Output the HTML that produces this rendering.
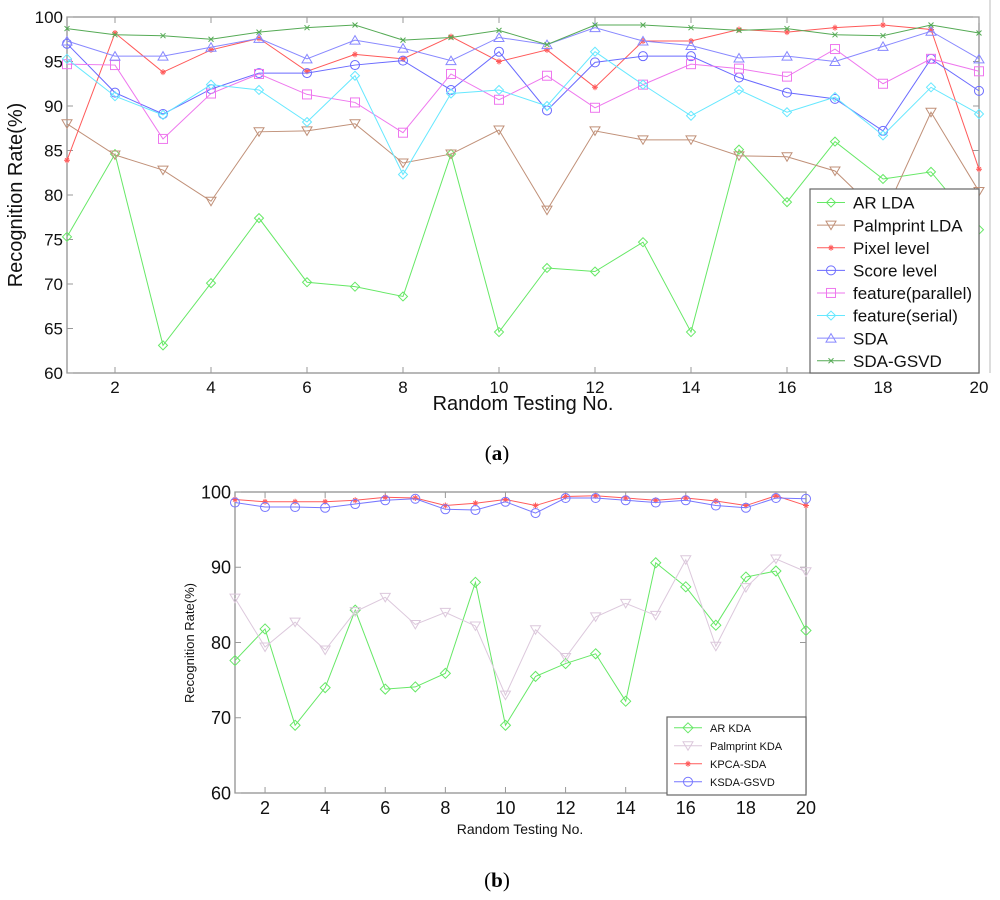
<!DOCTYPE html>
<html><head><meta charset="utf-8"><style>
body{margin:0;background:#fff;width:1000px;height:900px;overflow:hidden;font-family:"Liberation Sans",sans-serif}
svg{position:absolute;left:0;top:0}
</style></head><body>
<svg id="fig" width="1000" height="900"></svg>
<script>
const xCats=[1,2,3,4,5,6,7,8,9,10,11,12,13,14,15,16,17,18,19,20];
const xTicks=[2,4,6,8,10,12,14,16,18,20];
const yTicksA=[60,65,70,75,80,85,90,95,100];
const yTicksB=[60,70,80,90,100];
const arLda=[75.3,84.6,63.1,70.1,77.4,70.2,69.7,68.6,84.6,64.6,71.8,71.4,74.7,64.6,85.1,79.2,86.0,81.8,82.6,76.1];
const palmLda=[88,84.5,82.8,79.3,87.1,87.2,88,83.6,84.6,87.3,78.3,87.2,86.2,86.2,84.4,84.3,82.7,77.5,89.3,80.4];
const pixelLevel=[83.9,98.2,93.8,96.3,97.6,93.9,95.8,95.3,97.8,95.0,96.3,92.1,97.3,97.3,98.6,98.3,98.8,99.1,98.6,82.9];
const scoreLevel=[97,91.5,89.1,91.9,93.7,93.7,94.6,95.1,91.8,96.1,89.5,94.9,95.6,95.6,93.2,91.5,90.8,87.2,95.3,91.7];
const featParallel=[94.7,94.6,86.3,91.4,93.6,91.3,90.4,87,93.6,90.7,93.4,89.8,92.4,94.7,94.2,93.3,96.4,92.5,95.3,93.9];
const featSerial=[95.3,91.1,89.0,92.4,91.8,88.2,93.4,82.3,91.4,91.8,90,96.1,92.4,88.9,91.8,89.3,91,86.7,92.1,89.1];
const sda=[97.3,95.6,95.6,96.6,97.6,95.3,97.4,96.5,95.1,97.7,96.9,98.8,97.3,96.8,95.4,95.6,95.0,96.7,98.4,95.3];
const sdaGsvd=[98.7,98,97.9,97.5,98.3,98.8,99.1,97.4,97.7,98.5,96.9,99.1,99.1,98.8,98.5,98.7,98.0,97.9,99.1,98.2];
const arKda=[77.6,81.8,69,74,84.3,73.8,74.1,75.9,88,69,75.5,77.2,78.5,72.2,90.6,87.4,82.3,88.7,89.5,81.6];
const palmKda=[85.9,79.4,82.7,79,84.1,86,82.4,84,82.2,73,81.7,78,83.4,85.2,83.6,91,79.5,87.3,91.1,89.4];
const kpcaSda=[99,98.7,98.7,98.7,98.9,99.3,99.2,98.2,98.5,99,98.2,99.4,99.5,99.2,98.9,99.2,98.8,98.2,99.5,98.2];
const ksdaGsvd=[98.6,98,98,97.9,98.4,98.9,99.1,97.7,97.6,98.7,97.2,99.2,99.2,98.9,98.6,98.9,98.2,97.9,99.2,99.1];

const NS="http://www.w3.org/2000/svg";
const svg=document.getElementById('fig');
function mk(tag,attrs,parent){const e=document.createElementNS(NS,tag);for(const k in attrs)e.setAttribute(k,attrs[k]);(parent||svg).appendChild(e);return e;}
function marker(g,type,x,y,c,s){
  let e;
  if(type==='diamond')e=mk('polygon',{points:`${x},${y-s} ${x+s},${y} ${x},${y+s} ${x-s},${y}`,fill:'none',stroke:c},g);
  else if(type==='tri-down')e=mk('polygon',{points:`${x-s},${y-s*0.8} ${x+s},${y-s*0.8} ${x},${y+s*0.9}`,fill:'none',stroke:c},g);
  else if(type==='tri-up')e=mk('polygon',{points:`${x-s},${y+s*0.8} ${x+s},${y+s*0.8} ${x},${y-s*0.9}`,fill:'none',stroke:c},g);
  else if(type==='circle')e=mk('circle',{cx:x,cy:y,r:s,fill:'none',stroke:c},g);
  else if(type==='square')e=mk('rect',{x:x-s,y:y-s,width:2*s,height:2*s,fill:'none',stroke:c},g);
  else if(type==='star'){e=mk('path',{d:`M${x-3},${y}h6M${x},${y-3}v6M${x-2},${y-2}l4,4M${x-2},${y+2}l4,-4`,stroke:c},g);}
  else if(type==='x'){e=mk('path',{d:`M${x-2.5},${y-2.5}l5,5M${x-2.5},${y+2.5}l5,-5`,stroke:c},g);}
  
  
}
function chart(cfg){
  const {L,R,T,B,ymin,ymax,yTicks,series,tickFont,name}=cfg;
  const xs=v=>L+(v-1)/(19)*(R-L);
  const ys=v=>B-(v-ymin)/(ymax-ymin)*(B-T);
  const g=mk('g',{});
  
  
  mk('rect',{x:L,y:T,width:R-L,height:B-T,fill:'#fff',stroke:'#888','stroke-width':1.2},g);
  xTicks.forEach(t=>{
    const X=xs(t);
    mk('line',{x1:X,y1:B,x2:X,y2:B-6,stroke:'#999'},g);
    mk('line',{x1:X,y1:T,x2:X,y2:T+6,stroke:'#999'},g);
    const tx=mk('text',{x:X,y:B+tickFont+3,'font-size':tickFont,'text-anchor':'middle',fill:'#111'},g);
    tx.textContent=t;
    
    
  });
  yTicks.forEach(t=>{
    const Y=ys(t);
    mk('line',{x1:L,y1:Y,x2:L+6,y2:Y,stroke:'#999'},g);
    mk('line',{x1:R,y1:Y,x2:R-6,y2:Y,stroke:'#999'},g);
    const tx=mk('text',{x:L-4,y:Y+tickFont*0.36,'font-size':tickFont,'text-anchor':'end',fill:'#111'},g);
    tx.textContent=t;
    
    
  });
  series.forEach(s=>{
    const sg=mk('g',{},g);
    
    
    const pts=s.data.map((v,i)=>xs(xCats[i])+','+ys(v)).join(' ');
    mk('polyline',{points:pts,fill:'none',stroke:s.c,'stroke-width':1},sg);
    s.data.forEach((v,i)=>marker(sg,s.m,xs(xCats[i]),ys(v),s.c,s.ms));
  });
  return g;
}
function legend(x,y,w,h,series,fs,gap,name){
  const g=mk('g',{});
  
  
  mk('rect',{x:x,y:y,width:w,height:h,fill:'#fff',stroke:'#666','stroke-width':1.2},g);
  series.forEach((s,i)=>{
    const cy=y+gap*0.6+i*gap;
    const eg=mk('g',{},g);
    
    
    mk('line',{x1:x+7,y1:cy,x2:x+35,y2:cy,stroke:s.c},eg);
    marker(eg,s.m,x+21,cy,s.c,s.ms);
    const t=mk('text',{x:x+43,y:cy+fs*0.36,'font-size':fs,fill:'#111'},eg);
    t.textContent=s.label;
  });
}
const sA=[
 {id:'ar-lda',label:'AR LDA',data:arLda,c:'#66e866',m:'diamond',ms:4.5},
 {id:'palmprint-lda',label:'Palmprint LDA',data:palmLda,c:'#c09078',m:'tri-down',ms:5},
 {id:'pixel-level',label:'Pixel level',data:pixelLevel,c:'#ff5a5a',m:'star',ms:3},
 {id:'score-level',label:'Score level',data:scoreLevel,c:'#6a6aff',m:'circle',ms:4.5},
 {id:'feature-parallel',label:'feature(parallel)',data:featParallel,c:'#ee77ee',m:'square',ms:4.5},
 {id:'feature-serial',label:'feature(serial)',data:featSerial,c:'#66e8ff',m:'diamond',ms:4.5},
 {id:'sda',label:'SDA',data:sda,c:'#8888ff',m:'tri-up',ms:5},
 {id:'sda-gsvd',label:'SDA-GSVD',data:sdaGsvd,c:'#55aa55',m:'x',ms:3}];
chart({L:67,R:979,T:17,B:373,ymin:60,ymax:100,yTicks:yTicksA,series:sA,tickFont:17,name:'chart-a'});
legend(810,189,169,184,sA,17,22.6,'legend-a');
mk('line',{x1:990,y1:0,x2:990,y2:373,stroke:'#bbb'});
const sB=[
 {id:'ar-kda',label:'AR KDA',data:arKda,c:'#66e866',m:'diamond',ms:5},
 {id:'palmprint-kda',label:'Palmprint KDA',data:palmKda,c:'#dcc8dc',m:'tri-down',ms:5},
 {id:'kpca-sda',label:'KPCA-SDA',data:kpcaSda,c:'#ff5a5a',m:'star',ms:3},
 {id:'ksda-gsvd',label:'KSDA-GSVD',data:ksdaGsvd,c:'#7777ff',m:'circle',ms:4.5}];
chart({L:235,R:806,T:492,B:793,ymin:60,ymax:100,yTicks:yTicksB,series:sB,tickFont:18,name:'chart-b'});
legend(667,717,139,78,sB,11,18,'legend-b');
function txt(x,y,s,fs,opts){const t=mk('text',Object.assign({x:x,y:y,'font-size':fs,fill:'#111'},opts||{}));t.textContent=s;return t;}
let t;
t=txt(0,0,'Recognition Rate(%)',20,{transform:'translate(22,195) rotate(-90)','text-anchor':'middle'});


t=txt(523,410,'Random Testing No.',20,{'text-anchor':'middle'});


t=txt(0,0,'Recognition Rate(%)',13,{transform:'translate(194,643) rotate(-90)','text-anchor':'middle'});


t=txt(520,834,'Random Testing No.',14,{'text-anchor':'middle'});


t=mk('text',{x:497,y:460,'font-size':21,'font-family':'Liberation Serif, serif',fill:'#000','text-anchor':'middle'});
t.innerHTML='(<tspan font-weight="bold">a</tspan>)';


t=mk('text',{x:497,y:887,'font-size':21,'font-family':'Liberation Serif, serif',fill:'#000','text-anchor':'middle'});
t.innerHTML='(<tspan font-weight="bold">b</tspan>)';


</script>
</body></html>
